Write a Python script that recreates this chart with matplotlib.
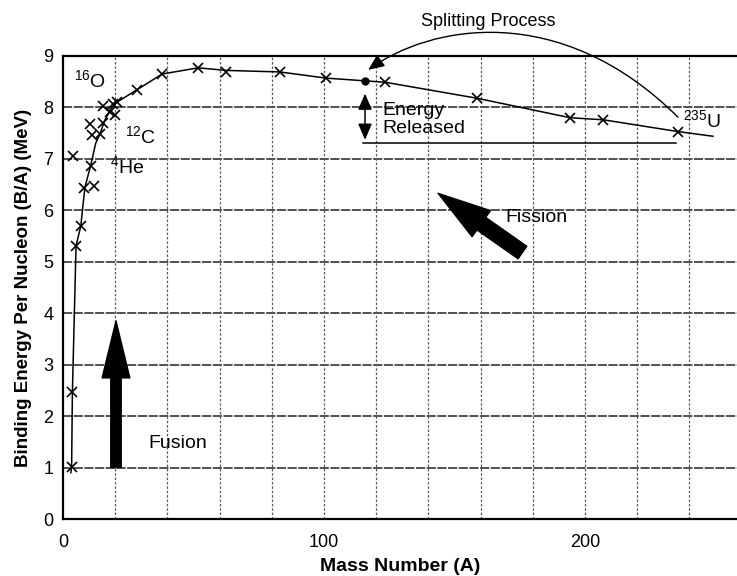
import matplotlib
matplotlib.use('Agg')
import matplotlib.pyplot as plt
from matplotlib.patches import FancyArrowPatch
from matplotlib.path import Path

# values
mass = [3.3, 3.6, 3.7, 5.0, 6.8, 8.0, 10.6, 11.9, 10.3, 11.0, 14.2, 15.2, 15.2,
        18.0, 19.3, 19.9, 20.6, 28.2, 38.0, 51.8, 62.5, 83.1, 100.8, 123.4,
        158.5, 194.3, 207.0, 235.7]
binding = [1.02, 2.47, 7.05, 5.31, 5.69, 6.44, 6.87, 6.47, 7.68, 7.47, 7.49, 8.02,
           7.69, 7.91, 8.07, 7.86, 8.10, 8.34, 8.65, 8.77, 8.69, 8.69, 8.57, 8.49,
           8.18, 7.80, 7.76, 7.53]

curve_mass = [3.0, 3.3, 3.6, 5.0, 6.8, 8.4, 10.6, 12.5, 14.2, 16.0, 18.0, 20.6,
              28.2, 38.0, 51.8, 62.5, 83.1, 100.8, 123.4, 158.5, 194.3, 207.0,
              235.7, 249.0]
curve_binding = [0.9, 1.02, 2.47, 5.31, 5.69, 6.45, 6.87, 7.3, 7.49, 7.75, 7.95, 8.1,
                 8.34, 8.65, 8.77, 8.72, 8.69, 8.57, 8.49, 8.18, 7.80, 7.76,
                 7.53, 7.44]

fragment_mass = 115.7
fragment_binding = 8.52
released_floor = 7.30

x_ticks = [0, 100, 200]
y_ticks = list(range(10))

plt.rcParams['font.family'] = ['Liberation Sans', 'DejaVu Sans']
plt.rcParams['mathtext.fontset'] = 'custom'
plt.rcParams['mathtext.rm'] = 'Liberation Sans'

fig = plt.figure(figsize=(7.37, 5.76), dpi=100)
ax = fig.add_axes([63 / 737, 57 / 576, 674 / 737, 463 / 576])
ax.set_xlim(0, 258.2)
ax.set_ylim(0, 9)

# grid: dark dashed horizontals, lighter dotted verticals
for yv in y_ticks[1:-1]:
    ax.axhline(yv, color='#222222', lw=1.1, ls=(0, (6, 1)), zorder=1)
for xv in range(20, 260, 20):
    ax.axvline(xv, color='#4d5c6b', lw=0.9, ls=(0, (2, 1.5)), zorder=1)

ax.plot(curve_mass, curve_binding, color='black', lw=1.1, zorder=3)
ax.plot(mass, binding, ls='none', marker='x', ms=7, mew=1.2, color='black', zorder=4)
ax.plot([fragment_mass], [fragment_binding], 'o', ms=5, color='black', zorder=4)

ax.set_xticks(x_ticks)
ax.set_yticks(y_ticks)
ax.tick_params(length=0, labelsize=13, pad=7)
ax.tick_params(axis='x', pad=11)
ax.spines['right'].set_visible(False)
for s in ['left', 'bottom', 'top']:
    ax.spines[s].set_linewidth(1.6)

ax.set_xlabel('Mass Number (A)', fontsize=14, fontweight='bold', labelpad=5)
ax.set_ylabel('Binding Energy Per Nucleon (B/A) (MeV)', fontsize=13.5,
              fontweight='bold', labelpad=8)

# isotope labels
lab = dict(fontsize=14, va='baseline', ha='left')
ax.text(4.2, 8.40, r'$\mathregular{^{16}O}$', **lab)
ax.text(23.8, 7.31, r'$\mathregular{^{12}C}$', **lab)
ax.text(18.0, 6.73, r'$\mathregular{^{4}He}$', **lab)
ax.text(237.5, 7.62, r'$\mathregular{^{235}U}$', **lab)

# fusion arrow
ax.annotate('', xy=(20.3, 3.85), xytext=(20.3, 1.0),
            arrowprops=dict(arrowstyle='simple,head_length=41,head_width=20,tail_width=7.5',
                            mutation_scale=1, color='black', shrinkA=0, shrinkB=0))
ax.text(32.6, 1.46, 'Fusion', fontsize=14, va='center', ha='left')

# fission arrow
ax.annotate('', xy=(143.7, 6.33), xytext=(176.0, 5.18),
            arrowprops=dict(arrowstyle='simple,head_length=38,head_width=23,tail_width=11',
                            mutation_scale=1, color='black', shrinkA=0, shrinkB=0))
ax.text(169.3, 5.87, 'Fission', fontsize=14, va='center', ha='left')

# energy released marker
ax.annotate('', xy=(fragment_mass, 8.27), xytext=(fragment_mass, 7.37),
            arrowprops=dict(arrowstyle='<|-|>,head_length=0.7,head_width=0.3',
                            mutation_scale=14, color='black', lw=1.1,
                            shrinkA=0, shrinkB=0))
ax.plot([fragment_mass - 0.6, 235.0], [released_floor, released_floor],
        color='black', lw=1.1, zorder=3)
ax.text(122.2, 7.76, 'Energy\nReleased', fontsize=14, va='center', ha='left',
        linespacing=1.05)

# splitting process arc
arc = Path([(235.6, 7.81), (190.4, 10.09), (140.6, 9.60), (116.9, 8.73)],
           [Path.MOVETO, Path.CURVE4, Path.CURVE4, Path.CURVE4])
ax.add_patch(FancyArrowPatch(path=arc, arrowstyle='-|>,head_length=0.7,head_width=0.3',
                             mutation_scale=14, color='black', lw=1.0,
                             transform=ax.transData, clip_on=False, zorder=5))
ax.text(162.8, 9.68, 'Splitting Process', fontsize=13, va='center', ha='center',
        clip_on=False)

fig.savefig('out.png', dpi=100)
